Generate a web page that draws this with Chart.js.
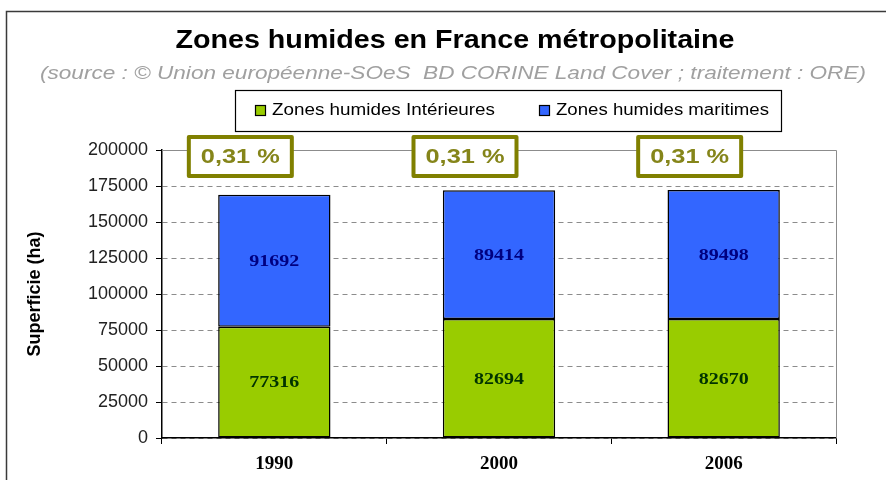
<!DOCTYPE html>
<html>
<head>
<meta charset="utf-8">
<script src="https://cdn.jsdelivr.net/npm/chart.js@4/dist/chart.umd.min.js"></script>
<style>
  html, body { margin: 0; padding: 0; background: #fff; }
  #wrap { width: 886px; height: 480px; position: relative; }
</style>
</head>
<body>
<div id="wrap"><canvas id="zonesChart" width="886" height="480"></canvas></div>
<script>
// Data
const years = ['1990', '2000', '2006'];
const interieures = [77316, 82694, 82670];
const maritimes = [91692, 89414, 89498];
const shareLabels = ['0,31 %', '0,31 %', '0,31 %'];
const yTicks = [0, 25000, 50000, 75000, 100000, 125000, 150000, 175000, 200000];

const titleText = 'Zones humides en France métropolitaine';
const subtitleText = '(source : © Union européenne-SOeS  BD CORINE Land Cover ; traitement : ORE)';

const SANS = '"Liberation Sans", Arial, sans-serif';
const SERIF = '"Liberation Serif", "Times New Roman", serif';

// draw text squeezed/stretched horizontally to a given width (old Excel fonts are wide)
function fillFit(ctx, text, x, y, width, align) {
    const w = ctx.measureText(text).width;
    const sx = width / w;
    ctx.save();
    ctx.textAlign = 'left';
    let left = x;
    if (align === 'center') left = x - width / 2;
    ctx.translate(left, y);
    ctx.scale(sx, 1);
    ctx.fillText(text, 0, 0);
    ctx.restore();
}

// Frame, title, subtitle, boxed legend and labels
const decorPlugin = {
    id: 'decor',
    beforeDraw(chart) {
        const ctx = chart.ctx;
        ctx.save();
        ctx.fillStyle = '#fff';
        ctx.fillRect(0, 0, chart.width, chart.height);
        ctx.strokeStyle = '#3a3a3a';
        ctx.lineWidth = 1.5;
        ctx.strokeRect(6.5, 11.5, 900, 500);
        ctx.restore();
    },
    afterDraw(chart) {
        const ctx = chart.ctx;
        const area = chart.chartArea;
        ctx.save();
        // gray frame on top and right of plot area
        ctx.strokeStyle = '#8c8c8c';
        ctx.lineWidth = 1;
        ctx.beginPath();
        ctx.moveTo(area.left, area.top + 0.5);
        ctx.lineTo(area.right + 0.5, area.top + 0.5);
        ctx.lineTo(area.right + 0.5, area.bottom);
        ctx.stroke();

        // title
        ctx.textBaseline = 'middle';
        ctx.fillStyle = '#000';
        ctx.font = 'bold 25px ' + SANS;
        fillFit(ctx, titleText, 455, 41, 559, 'center');
        ctx.fillStyle = '#a0a0a0';
        ctx.font = 'italic 19px ' + SANS;
        fillFit(ctx, subtitleText, 453, 74, 826, 'center');

        // legend box
        ctx.fillStyle = '#fff';
        ctx.fillRect(235, 90, 546, 41);
        ctx.strokeStyle = '#000';
        ctx.lineWidth = 1.2;
        ctx.strokeRect(235.5, 90.5, 546, 41);
        const legendX = [255, 539];
        const legendW = [223, 213];
        ctx.font = '16px ' + SANS;
        chart.data.datasets.forEach((ds, i) => {
            ctx.fillStyle = ds.backgroundColor;
            ctx.fillRect(legendX[i], 105, 11, 11);
            ctx.strokeStyle = '#000';
            ctx.lineWidth = 1.2;
            ctx.strokeRect(legendX[i] + 0.5, 105.5, 10, 10);
            ctx.fillStyle = '#000';
            fillFit(ctx, ds.label, legendX[i] + 17, 111, legendW[i], 'left');
        });

        // segment values
        ctx.font = 'bold 17px ' + SERIF;
        const textColors = ['#003300', '#000080'];
        chart.data.datasets.forEach((ds, di) => {
            const meta = chart.getDatasetMeta(di);
            meta.data.forEach((bar, i) => {
                const cy = (bar.y + bar.base) / 2;
                ctx.fillStyle = textColors[di];
                fillFit(ctx, String(ds.data[i]), bar.x, cy + 1, 50, 'center');
            });
        });

        // share boxes above each bar
        const xScale = chart.scales.x;
        ctx.font = 'bold 21px ' + SANS;
        shareLabels.forEach((txt, i) => {
            const cx = xScale.getPixelForValue(i) - 34;
            const w = 103, h = 39, top = 137;
            ctx.fillStyle = '#fff';
            ctx.fillRect(cx - w / 2, top, w, h);
            ctx.strokeStyle = '#808000';
            ctx.lineWidth = 4;
            ctx.lineJoin = 'round';
            ctx.strokeRect(cx - w / 2, top, w, h);
            ctx.fillStyle = '#85851a';
            fillFit(ctx, txt, cx, top + h / 2 + 1, 79, 'center');
        });
        ctx.restore();
    }
};

const ctx = document.getElementById('zonesChart').getContext('2d');
const zonesChart = new Chart(ctx, {
    type: 'bar',
    data: {
        labels: years,
        datasets: [
            {
                label: 'Zones humides Intérieures',
                data: interieures,
                backgroundColor: '#99CC00',
                borderColor: '#000',
                borderWidth: 1.5,
                borderSkipped: false,
                categoryPercentage: 1,
                barPercentage: 0.5
            },
            {
                label: 'Zones humides maritimes',
                data: maritimes,
                backgroundColor: '#3366FF',
                borderColor: '#000',
                borderWidth: 1.5,
                borderSkipped: false,
                categoryPercentage: 1,
                barPercentage: 0.5
            }
        ]
    },
    options: {
        responsive: false,
        animation: false,
        layout: { padding: { top: 150, right: 50, left: 24, bottom: 0 } },
        plugins: {
            legend: { display: false },
            title: { display: false },
            tooltip: { enabled: false }
        },
        scales: {
            x: {
                stacked: true,
                afterFit(scale) { scale.height = 42; },
                grid: {
                    offset: true,
                    drawOnChartArea: false,
                    drawTicks: true,
                    tickLength: 6,
                    color: '#000'
                },
                border: { color: '#000', width: 1.5 },
                ticks: {
                    color: '#000',
                    padding: 9,
                    font: { family: SERIF, size: 19, weight: 'bold' }
                }
            },
            y: {
                stacked: true,
                min: 0,
                max: 200000,
                afterFit(scale) { scale.width = 138; },
                afterBuildTicks(scale) { scale.ticks = yTicks.map(v => ({ value: v })); },
                grid: {
                    color: '#8c8c8c',
                    tickColor: '#000',
                    tickLength: 6,
                    tickBorderDash: [],
                    lineWidth: 1
                },
                border: { color: '#000', width: 1.5, dash: [5, 4] },
                ticks: {
                    color: '#222',
                    padding: 8,
                    callback: v => String(v),
                    font: { family: SANS, size: 18 }
                },
                title: {
                    display: true,
                    text: 'Superficie (ha)',
                    color: '#000',
                    padding: { top: 0, bottom: 8 },
                    font: { family: SANS, size: 18, weight: 'bold' }
                }
            }
        }
    },
    plugins: [decorPlugin]
});
</script>
</body>
</html>
